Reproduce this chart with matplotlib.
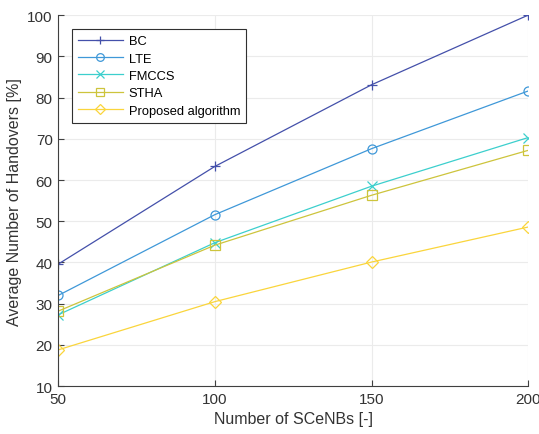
import matplotlib
matplotlib.use("Agg")
import matplotlib.pyplot as plt

plt.rcParams['font.family'] = ['Liberation Sans', 'DejaVu Sans']

# number of small cells
scenbs = [50, 100, 150, 200]

# average handovers [%] per scheme
bc = [39.6, 63.3, 83.1, 100.0]
lte = [32.0, 51.6, 67.6, 81.6]
fmccs = [27.3, 44.8, 58.5, 70.3]
stha = [28.2, 44.2, 56.3, 67.2]
proposed = [18.8, 30.5, 40.1, 48.6]

series = [
    ("BC", bc, "#4450aa", "+"),
    ("LTE", lte, "#3f98d8", "o"),
    ("FMCCS", fmccs, "#3ccfcd", "x"),
    ("STHA", stha, "#cdc43c", "s"),
    ("Proposed algorithm", proposed, "#fad53c", "D"),
]

fig = plt.figure(figsize=(5.39, 4.35), dpi=100)
ax = fig.add_axes([0.108, 0.110, 0.872, 0.853])

for name, vals, col, mk in series:
    ms = 7 if mk in "+x" else (6 if mk == "D" else 6.5)
    ax.plot(scenbs, vals, color=col, marker=mk, markersize=ms,
            markerfacecolor="none", markeredgecolor=col,
            markeredgewidth=0.9, linewidth=0.9, label=name)

ax.set_xlim(50, 200)
ax.set_ylim(10, 100)
ax.set_xticks([50, 100, 150, 200])
ax.set_yticks(range(10, 101, 10))
ax.grid(True, color="#ebebeb", linewidth=0.8)
ax.set_axisbelow(True)

for s in ["top", "right"]:
    ax.spines[s].set_visible(False)
for s in ["left", "bottom"]:
    ax.spines[s].set_color("#404040")
    ax.spines[s].set_linewidth(0.8)
ax.tick_params(direction="in", length=4, color="#404040",
               labelcolor="#333333", labelsize=11, pad=4)

ax.set_xlabel("Number of SCeNBs [-]", fontsize=11.5, color="#333333")
ax.set_ylabel("Average Number of Handovers [%]", fontsize=11.5, color="#333333")

leg = ax.legend(loc="upper left", bbox_to_anchor=(0.029, 0.962),
                borderaxespad=0, fontsize=9.3, handlelength=3.5,
                handletextpad=0.45, borderpad=0.45, labelspacing=0.42,
                markerscale=0.85, fancybox=False, framealpha=1,
                edgecolor="#303030")
leg.get_frame().set_linewidth(0.8)

fig.savefig("out.png", dpi=100)
